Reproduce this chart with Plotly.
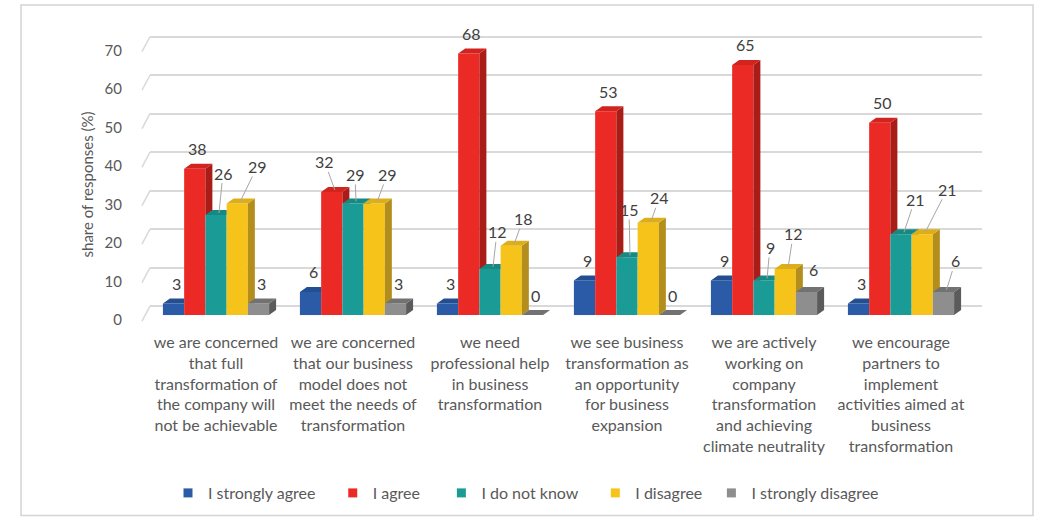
import plotly.graph_objects as go

# ---- data -------------------------------------------------------------
categories = [
    "we are concerned<br>that full<br>transformation of<br>the company will<br>not be achievable",
    "we are concerned<br>that our business<br>model does not<br>meet the needs of<br>transformation",
    "we need<br>professional help<br>in business<br>transformation",
    "we see business<br>transformation as<br>an opportunity<br>for business<br>expansion",
    "we are actively<br>working on<br>company<br>transformation<br>and achieving<br>climate neutrality",
    "we encourage<br>partners to<br>implement<br>activities aimed at<br>business<br>transformation",
]
series_names = ["I strongly agree", "I agree", "I do not know", "I disagree", "I strongly disagree"]
strongly_agree = [3, 6, 3, 9, 9, 3]
agree = [38, 32, 68, 53, 65, 50]
do_not_know = [26, 29, 12, 15, 9, 21]
disagree = [29, 29, 18, 24, 12, 21]
strongly_disagree = [3, 3, 0, 0, 6, 6]
y_ticks = [0, 10, 20, 30, 40, 50, 60, 70]
y_title = "share of responses (%)"

series_values = [strongly_agree, agree, do_not_know, disagree, strongly_disagree]

# ---- styling ----------------------------------------------------------
front_colors = ["#2B5BA6", "#EC2A25", "#1A9B96", "#F6C31B", "#8E8E8E"]
side_colors = ["#1D3E78", "#A91C18", "#117069", "#B38E1C", "#5B5B5B"]
top_colors = ["#244E92", "#D2231F", "#168983", "#DDAE18", "#727272"]
FONT = "Lato, 'Open Sans', sans-serif"
TEXT = "#595959"
LABEL = "#404040"
GRID = "#d9d9d9"
NBSP = "\u00a0"
legend_pad = [3, 4, 3, 1, 0]   # extra spacing after each legend entry

W, H = 1041, 520
ML, MR, MT, MB = 150, 59, 25, 190
PW, PH = W - ML - MR, H - MT - MB
X_PX = 137.0          # pixels per category
Y_PX = 3.86           # pixels per percent
X0_PX = 216.0         # pixel centre of the first group
BASE_PX = 316.0       # front floor line of the bars
GRID_BASE_PX = 307.0  # back-wall floor line
TICK_BASE_PX = 321.0  # position of the "0" tick label

x_range = [-(X0_PX - ML) / X_PX, -(X0_PX - ML) / X_PX + PW / X_PX]
def y_range(base_px):
    lo = -((H - MB) - base_px) / Y_PX
    return [lo, lo + PH / Y_PX]

def px_x(p):
    return (p - ML) / PW

def px_y(p):
    return (H - MB - p) / PH

n_series = len(series_values)
bar_w = 0.155
group_w = bar_w * n_series
offsets = [-group_w / 2 + k * bar_w for k in range(n_series)]
DX = 7 / X_PX   # depth of the 3-D extrusion, in axis units
DY = 5 / Y_PX


def clip(poly, inside, cross):
    """Sutherland-Hodgman clip of a convex polygon against one half-plane."""
    out = []
    for i in range(len(poly)):
        a, b = poly[i - 1], poly[i]
        ia, ib = inside(a), inside(b)
        if ib:
            if not ia:
                out.append(cross(a, b))
            out.append(b)
        elif ia:
            out.append(cross(a, b))
    return out


def cross_y(level):
    def f(a, b):
        t = (level - a[1]) / (b[1] - a[1])
        return (a[0] + t * (b[0] - a[0]), level)
    return f


def cross_x(level):
    def f(a, b):
        t = (level - a[0]) / (b[0] - a[0])
        return (level, a[1] + t * (b[1] - a[1]))
    return f


def add_polys(xs, ys, poly):
    if len(poly) < 3:
        return
    for px, py in poly + [poly[0]]:
        xs.append(px)
        ys.append(py)
    xs.append(None)
    ys.append(None)


fig = go.Figure()

for k, (name, vals) in enumerate(zip(series_names, series_values)):
    # front faces
    fig.add_trace(go.Bar(
        x=list(range(len(vals))), y=vals, width=bar_w, offset=offsets[k],
        marker=dict(color=front_colors[k], line=dict(width=0)),
        name=name, showlegend=False, hoverinfo="skip",
    ))

for k, vals in enumerate(series_values):
    sx, sy, tx, ty = [], [], [], []
    for i, v in enumerate(vals):
        xl = i + offsets[k]
        xr = xl + bar_w
        nxt = series_values[k + 1][i] if k + 1 < n_series else None
        side = [(xr, 0), (xr + DX, DY), (xr + DX, v + DY), (xr, v)]
        top = [(xl, v), (xl + DX, v + DY), (xr + DX, v + DY), (xr, v)]
        if nxt is not None:
            side = clip(side, lambda p: p[1] >= nxt, cross_y(nxt))
            left = clip(top, lambda p: p[0] <= xr, cross_x(xr))
            right = clip(top, lambda p: p[0] >= xr, cross_x(xr))
            right = clip(right, lambda p: p[1] >= nxt, cross_y(nxt)) if right else []
            add_polys(tx, ty, left)
            add_polys(tx, ty, right)
        else:
            add_polys(tx, ty, top)
        add_polys(sx, sy, side)
    fig.add_trace(go.Scatter(x=sx, y=sy, mode="lines", fill="toself",
                             fillcolor=side_colors[k], line=dict(width=0),
                             showlegend=False, hoverinfo="skip"))
    fig.add_trace(go.Scatter(x=tx, y=ty, mode="lines", fill="toself",
                             fillcolor=top_colors[k], line=dict(width=0),
                             showlegend=False, hoverinfo="skip"))

# legend swatches
for k, name in enumerate(series_names):
    fig.add_trace(go.Scatter(x=[None], y=[None], mode="markers",
                             name=name + NBSP * legend_pad[k],
                             marker=dict(symbol="square", size=9, color=front_colors[k])))

# invisible carriers for the back-wall grid and the tick labels
fig.add_trace(go.Scatter(x=[None], y=[None], yaxis="y2", showlegend=False, hoverinfo="skip"))
fig.add_trace(go.Scatter(x=[None], y=[None], yaxis="y3", showlegend=False, hoverinfo="skip"))

# value labels: (series, group) -> text offset in pixels, with leader line
leaders = {
    (2, 0): (4, -40), (3, 0): (17, -35),
    (1, 1): (-10, -28), (2, 1): (-1, -27), (3, 1): (10, -27),
    (2, 2): (4, -35), (3, 2): (9, -25),
    (2, 3): (-1, -46), (3, 3): (8, -23),
    (2, 4): (3, -31), (3, 4): (5, -33),
    (2, 5): (11, -33), (3, 5): (22, -43), (4, 5): (9, -29),
}
plain_shift = {(4, 4): (7, 22)}

annotations = []
for k, vals in enumerate(series_values):
    for i, v in enumerate(vals):
        cx = i + offsets[k] + bar_w / 2
        font = dict(family=FONT, size=16, color=LABEL)
        if (k, i) in leaders:
            ax, ay = leaders[(k, i)]
            annotations.append(dict(
                x=cx, y=v, xref="x", yref="y", text=str(v), font=font,
                showarrow=True, arrowhead=0, arrowwidth=1, arrowcolor="#a6a6a6",
                ax=ax, ay=ay, xshift=3, yshift=2, standoff=0, borderpad=0))
        else:
            sx, sy = plain_shift.get((k, i), (3, 20))
            annotations.append(dict(
                x=cx, y=v, xref="x", yref="y", text=str(v), font=font,
                showarrow=False, xshift=sx, yshift=sy, yanchor="middle"))

annotations.append(dict(
    x=px_x(87), y=px_y(185), xref="paper", yref="paper", text=y_title,
    xanchor="center", yanchor="middle",
    textangle=-90, showarrow=False, font=dict(family=FONT, size=15, color=TEXT)))

shapes = [dict(type="rect", xref="paper", yref="paper",
               x0=px_x(21), x1=px_x(1033), y0=px_y(517), y1=px_y(5),
               line=dict(color="#d4d4d4", width=1.5), layer="below")]
for v in y_ticks:
    # receding edge of each gridline on the left wall
    shapes.append(dict(type="line", xref="paper", yref="y2",
                       x0=px_x(142), y0=v - 15 / Y_PX, x1=0, y1=v,
                       line=dict(color=GRID, width=1.5), layer="below"))

fig.update_layout(
    width=W, height=H,
    margin=dict(l=ML, r=MR, t=MT, b=MB),
    paper_bgcolor="white", plot_bgcolor="white",
    barmode="overlay",
    font=dict(family=FONT, color=TEXT),
    xaxis=dict(range=x_range, tickvals=list(range(len(categories))), ticktext=categories,
               showgrid=False, zeroline=False, showline=False, ticks="",
               ticklabelstandoff=2,
               tickfont=dict(family=FONT, size=16, color=TEXT), fixedrange=True),
    yaxis=dict(range=y_range(BASE_PX), showgrid=False, zeroline=False,
               showticklabels=False, fixedrange=True),
    yaxis2=dict(range=y_range(GRID_BASE_PX), overlaying="y", tickvals=y_ticks,
                showgrid=True, gridcolor=GRID, gridwidth=1.5, zeroline=False,
                showticklabels=False, fixedrange=True, layer="below traces"),
    yaxis3=dict(range=y_range(TICK_BASE_PX), overlaying="y", tickvals=y_ticks,
                showgrid=False, zeroline=False, ticks="outside", ticklen=24,
                tickcolor="rgba(0,0,0,0)", tickfont=dict(family=FONT, size=15, color=TEXT),
                fixedrange=True),
    legend=dict(orientation="h", x=px_x(168), xanchor="left", y=px_y(493),
                yanchor="middle", font=dict(family=FONT, size=16, color=TEXT),
                itemwidth=30, tracegroupgap=0),
    annotations=annotations,
    shapes=shapes,
)

fig.write_html("out.html")
